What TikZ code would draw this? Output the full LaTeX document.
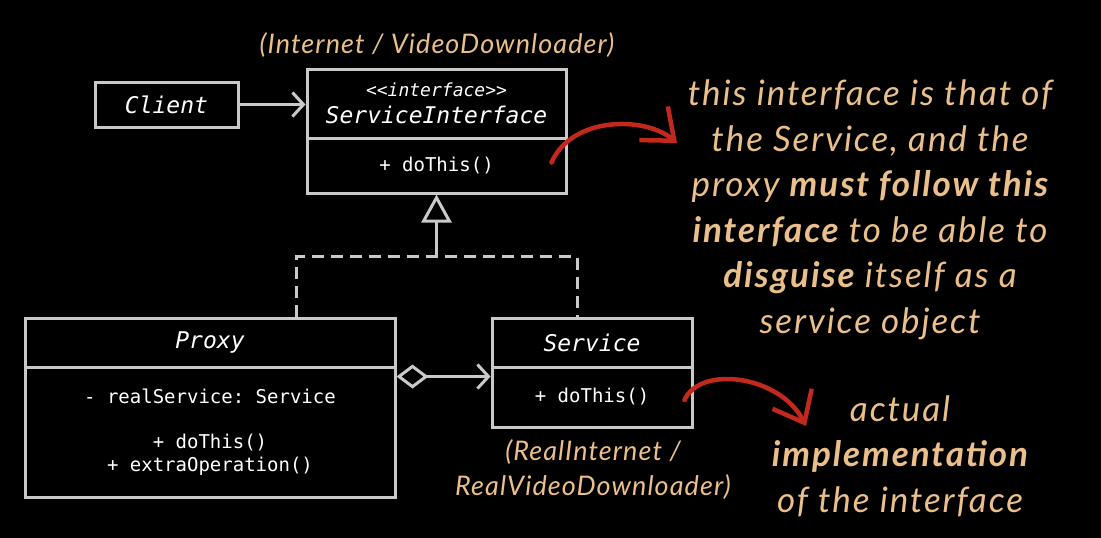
\documentclass[tikz,border=0pt]{standalone}
\usepackage{fontspec}
\setmainfont{Lato}
\setmonofont{DejaVu Sans Mono}
\newfontfamily\notefont{Lato}[LetterSpace=5.5]
\newfontfamily\tagfont{Lato}[LetterSpace=4]
\usetikzlibrary{arrows.meta,positioning,calc}
\definecolor{linegray}{HTML}{C9C9C9}
\definecolor{notetan}{HTML}{EABF8A}
\definecolor{markred}{HTML}{C2281C}

\begin{document}
\begin{tikzpicture}[x=1pt, y=-1pt,
  box/.style={draw=linegray, line width=3pt, fill=black, text=white, inner sep=0pt, align=center, font=\ttfamily\fontsize{19}{23}\selectfont},
  headbox/.style={box, font=\ttfamily\itshape\fontsize{23}{27}\selectfont},
  note/.style={text=notetan, align=center, font=\notefont\itshape\fontsize{35}{45.5}\selectfont},
  tag/.style={text=notetan, align=center, font=\tagfont\itshape\fontsize{27}{35}\selectfont},
  arr/.style={draw=linegray, line width=3pt, -{Straight Barb[length=11pt,width=24pt]}},
  realize/.style={draw=linegray, line width=3pt, dash pattern=on 12pt off 7pt},
  aggr/.style={draw=linegray, line width=3pt, {Diamond[open,length=32pt,width=24pt]}-{Straight Barb[length=11pt,width=24pt]}},
  markarr/.style={draw=markred, line width=4.5pt, line cap=round, -{Straight Barb[length=27pt,width=44pt,line width=4.5pt]}}
]
\useasboundingbox[fill=black] (0,0) rectangle (1101,538);

\node[headbox, minimum width=143pt, minimum height=45pt] (client) at (166.5,104.5) {Client};
\node[headbox, minimum width=259pt, minimum height=69pt] (si-head) at (436.5,103.5) {{\fontsize{18}{18}\selectfont <<interface>>}\\ServiceInterface};
\node[box, minimum width=259pt, minimum height=55pt] (si-body) at (436.5,165.5) {+ doThis()};
\node[headbox, minimum width=370pt, minimum height=49pt] (proxy-head) at (210,342.5) {Proxy};
\node[box, minimum width=370pt, minimum height=130pt] (proxy-body) at (210,432) {- realService: Service\\[22pt]+ doThis()\\+ extraOperation()};
\node[headbox, minimum width=200pt, minimum height=49pt] (service-head) at (592,342.5) {Service};
\node[box, minimum width=200pt, minimum height=60pt] (service-body) at (592,397) {+ doThis()};

\node[tag] (si-tag) at (437,45) {(Internet / VideoDownloader)};
\node[tag] (service-tag) at (593,470) {(RealInternet /\\RealVideoDownloader)};
\node[note] (note1) at (870,210) {this interface is that of\\the Service, and the\\proxy \textbf{must follow this}\\\textbf{interface} to be able to\\\textbf{disguise} itself as a\\service object};
\node[note] (note2) at (900,456) {actual\\\textbf{implementation}\\of the interface};

\draw[arr] (client.east) -- (client.east -| si-head.west);
\coordinate (fork) at ($(si-body.south)+(0,62)$);
\draw[realize] ([xshift=86pt]proxy-head.north) |- (fork) -| ([xshift=-15pt]service-head.north);
\draw[realize, -{Triangle[open,length=28pt,width=30pt,line width=3pt]}, dash pattern=] (fork) -- (si-body.south);
\draw[aggr] ([yshift=-11pt]proxy-body.north east) -- ([yshift=-11pt]service-body.north west);

\coordinate (tip1) at (677,143);
\coordinate (tip2) at (806,426);
\draw[markarr] ([shift={(-16pt,3pt)}]si-body.east) .. controls (572,116) and (645,116) .. (tip1);
\draw[markarr] ([shift={(-9pt,-3pt)}]service-body.east) .. controls (700,365) and (780,375) .. (tip2);
\end{tikzpicture}
\end{document}
